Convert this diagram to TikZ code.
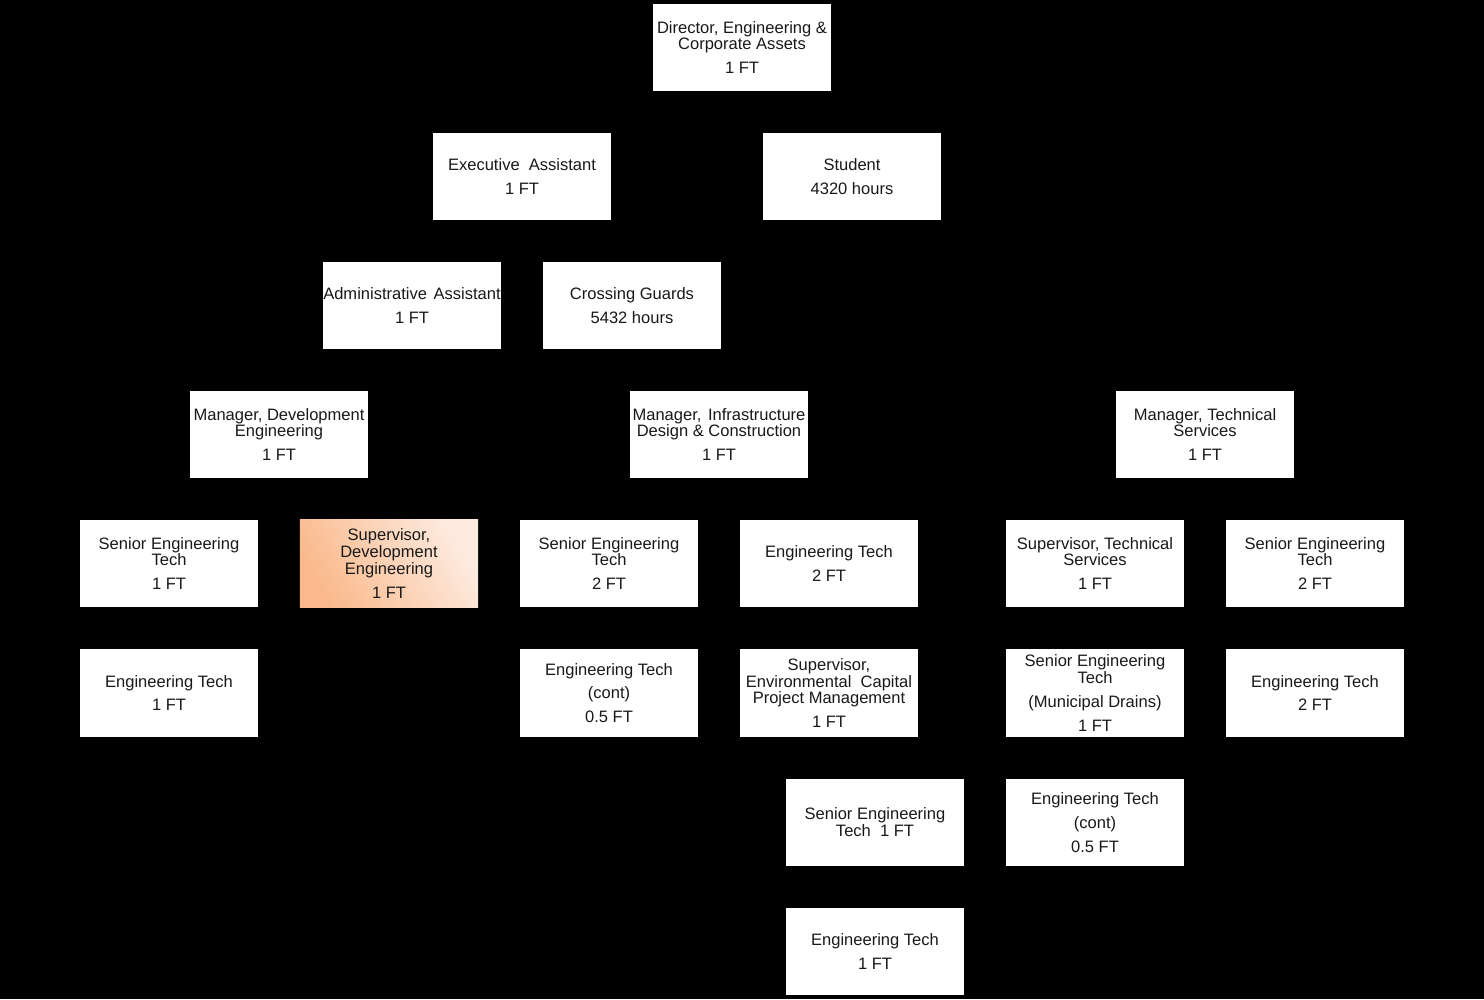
\documentclass[tikz,border=0pt]{standalone}
\usepackage{fontspec}
\setmainfont{Liberation Sans}
\usepackage{tikz}
\definecolor{suporange}{HTML}{FAB98B}
\definecolor{suppale}{HTML}{FDEBE0}

\begin{document}
\begin{tikzpicture}[x=0.01cm,y=-0.01cm]
  \tikzstyle{post}=[fill=white,text=black!90,minimum width=1.78cm,minimum height=0.87cm,inner sep=0pt,align=center,font=\fontsize{4.7}{4.8}\selectfont]
  \tikzstyle{hilite}=[post,left color=suporange,right color=suppale,shading angle=120]

  % BACKGROUND
  \fill[black] (0,0) rectangle (1484,999);

  % DIRECTOR AND STAFF
  \node[post] (dir) at (742,47.5) {Director, Engineering \&\\Corporate Assets\\[2pt]1 FT};
  \node[post] (exec) at (522,176.5) {Executive\ \ Assistant\\[2pt]1 FT};
  \node[post] (student) at (852,176.5) {Student\\[2pt]4320 hours};
  \node[post] (admin) at (412,305.5) {Administrative\hspace{0.4em}Assistant\\[2pt]1 FT};
  \node[post] (guards) at (632,305.5) {Crossing Guards\\[2pt]5432 hours};

  % MANAGERS
  \node[post] (mdev) at (279,434.5) {Manager, Development\\Engineering\\[2pt]1 FT};
  \node[post] (minfra) at (719,434.5) {Manager,\hspace{0.4em}Infrastructure\\Design \& Construction\\[2pt]1 FT};
  \node[post] (mtech) at (1205,434.5) {Manager, Technical\\Services\\[2pt]1 FT};

  % DEVELOPMENT ENGINEERING
  \node[post] (dset) at (169,563.5) {Senior Engineering\\Tech\\[2pt]1 FT};
  \node[post] (dtech) at (169,693) {Engineering Tech\\[2pt]1 FT};
  \node[hilite] (dsup) at (389,563.5) {Supervisor,\\Development\\Engineering\\[2pt]1 FT};

  % INFRASTRUCTURE DESIGN & CONSTRUCTION
  \node[post] (iset) at (609,563.5) {Senior Engineering\\Tech\\[2pt]2 FT};
  \node[post] (icont) at (609,693) {Engineering Tech\\[2pt](cont)\\[2pt]0.5 FT};
  \node[post] (itech) at (829,563.5) {Engineering Tech\\[2pt]2 FT};
  \node[post] (isup) at (829,693) {Supervisor,\\Environmental\ \ Capital\\Project Management\\[2pt]1 FT};
  \node[post] (eset) at (875,822.5) {Senior Engineering\\Tech\ \ 1 FT};
  \node[post] (etech) at (875,951.5) {Engineering Tech\\[2pt]1 FT};

  % TECHNICAL SERVICES
  \node[post] (tsup) at (1095,563.5) {Supervisor, Technical\\Services\\[2pt]1 FT};
  \node[post] (tdrain) at (1095,693) {Senior Engineering\\Tech\\[2pt](Municipal Drains)\\[2pt]1 FT};
  \node[post] (tcont) at (1095,822.5) {Engineering Tech\\[2pt](cont)\\[2pt]0.5 FT};
  \node[post] (tset) at (1315,563.5) {Senior Engineering\\Tech\\[2pt]2 FT};
  \node[post] (ttech) at (1315,693) {Engineering Tech\\[2pt]2 FT};
\end{tikzpicture}
\end{document}
